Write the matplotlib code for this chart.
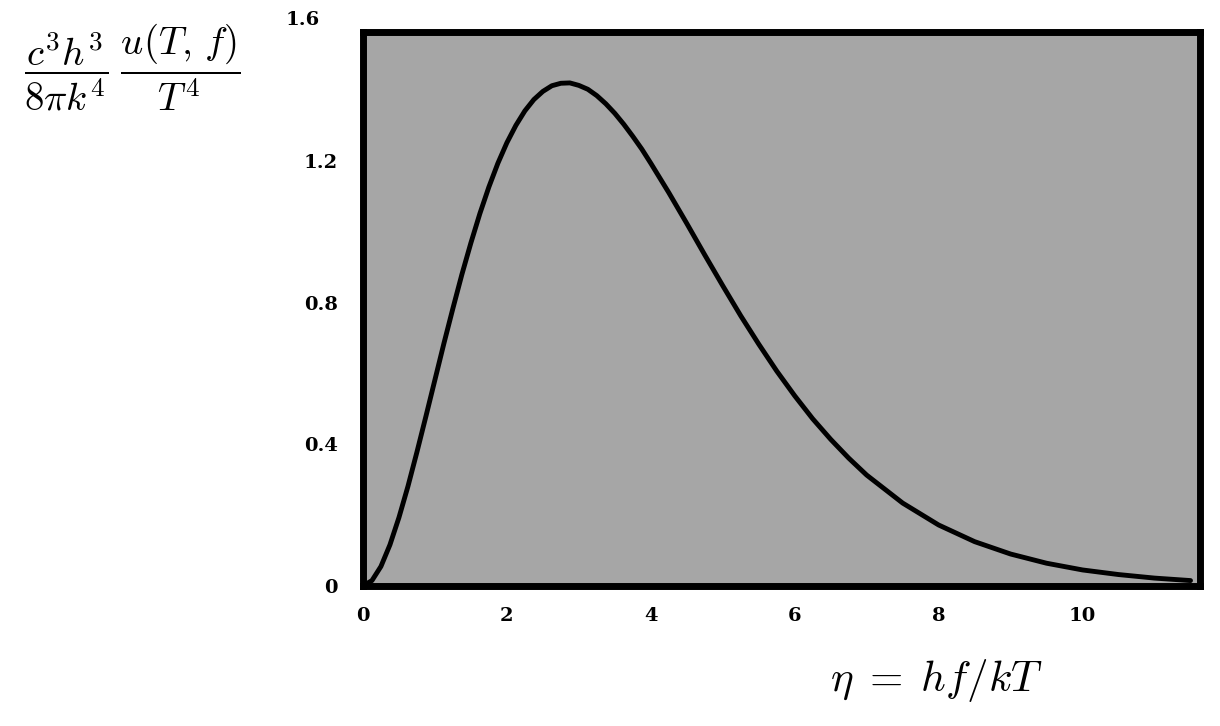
import matplotlib
matplotlib.use("Agg")
import matplotlib.pyplot as plt

plt.rcParams['mathtext.fontset'] = 'cm'

# Data
eta = [0.0, 0.125, 0.25, 0.375, 0.5, 0.625, 0.75, 0.875, 1.0, 1.125, 1.25,
       1.375, 1.5, 1.625, 1.75, 1.875, 2.0, 2.125, 2.25, 2.375, 2.5, 2.625,
       2.75, 2.875, 3.0, 3.125, 3.25, 3.375, 3.5, 3.625, 3.75, 3.875, 4.0,
       4.25, 4.5, 4.75, 5.0, 5.25, 5.5, 5.75, 6.0, 6.25, 6.5, 6.75, 7.0,
       7.5, 8.0, 8.5, 9.0, 9.5, 10.0, 10.5, 11.0, 11.5]
u = [0.0, 0.015, 0.055, 0.116, 0.193, 0.281, 0.378, 0.479, 0.582, 0.685, 0.784,
     0.880, 0.969, 1.052, 1.127, 1.194, 1.252, 1.301, 1.342, 1.374, 1.397, 1.413,
     1.420, 1.421, 1.414, 1.403, 1.385, 1.362, 1.335, 1.304, 1.270, 1.234, 1.194,
     1.111, 1.024, 0.935, 0.848, 0.763, 0.683, 0.607, 0.537, 0.472, 0.414, 0.361,
     0.313, 0.234, 0.172, 0.125, 0.090, 0.064, 0.045, 0.032, 0.022, 0.015]
xticks = [0, 2, 4, 6, 8, 10]
yticks = [0, 0.4, 0.8, 1.2]
ytick_top = 1.6

fig = plt.figure(figsize=(12.2, 7.26), dpi=100)
ax = fig.add_axes([0.2975, 0.193, 0.686, 0.763])
ax.set_facecolor('#a6a6a6')
ax.plot(eta, u, color='black', linewidth=3.5, solid_capstyle='round',
        solid_joinstyle='round')
ax.set_xlim(0, 11.63)
ax.set_ylim(0, 1.565)
for s in ax.spines.values():
    s.set_linewidth(5)
    s.set_color('black')

tick_font = dict(family='DejaVu Serif', weight='bold', size=14)
ax.set_xticks(xticks)
ax.set_xticklabels([str(t) for t in xticks], fontdict=tick_font)
ax.set_yticks(yticks)
ax.set_yticklabels(['0' if t == 0 else str(t) for t in yticks], fontdict=tick_font)
ax.tick_params(length=0)
ax.tick_params(axis='y', pad=18)
ax.tick_params(axis='x', pad=15)
ax.text(-0.052, ytick_top, '1.6', transform=ax.get_yaxis_transform(),
        ha='right', va='center', clip_on=False, **tick_font)

fig.text(0.108, 0.907, r'$\dfrac{c^3h^3}{8\pi k^4}\;\dfrac{u(T,\,f)}{T^4}$',
         ha='center', va='center', fontsize=28)
fig.text(0.768, 0.063, r'$\eta\;=\;hf/kT$', ha='center', va='center', fontsize=31)

fig.savefig('out.png', dpi=100)
